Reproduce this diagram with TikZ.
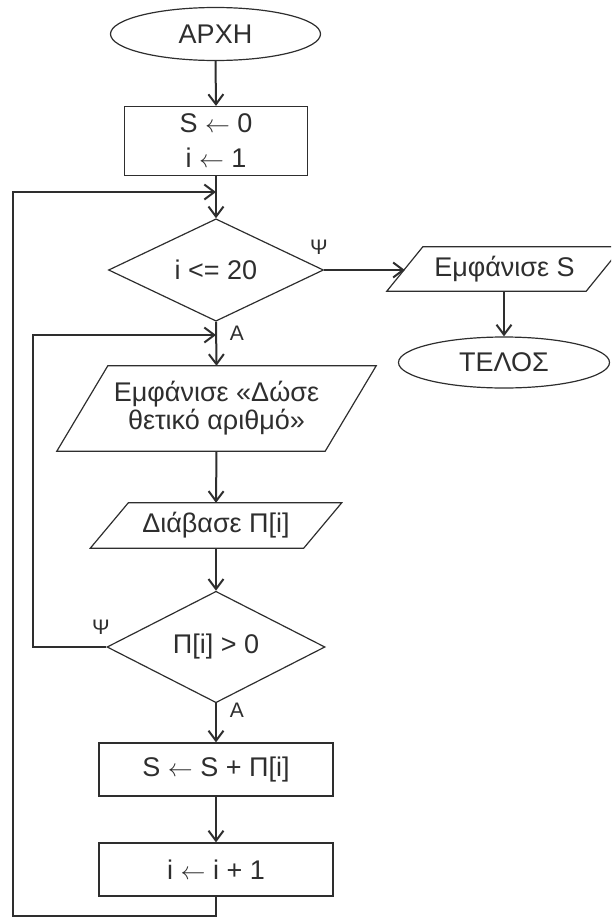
\documentclass[tikz,border=0pt]{standalone}
\usepackage{fontspec}
\setmainfont{Liberation Sans}
\usetikzlibrary{shapes.geometric,arrows.meta}
\definecolor{ink}{HTML}{2E2E2E}
\begin{document}
\begin{tikzpicture}[x=1pt,y=-1pt,
  every node/.style={font=\fontsize{27}{33}\selectfont, text=ink},
  term/.style={ellipse, draw=ink, line width=1.2pt, inner sep=0pt},
  procbox/.style={rectangle, draw=ink, line width=1.2pt, inner sep=0pt, align=center},
  decide/.style={diamond, draw=ink, line width=1.2pt, inner sep=0pt},
  iobox/.style={rectangle, inner sep=0pt, align=center},
  shapeline/.style={draw=ink, line width=1.2pt, line join=miter},
  flow/.style={draw=ink, line width=2pt, -{Straight Barb[length=10pt,width=15pt]}},
  plain/.style={draw=ink, line width=2pt},
  lbl/.style={font=\fontsize{21}{24}\selectfont, inner sep=0pt}
]
\clip (0,0) rectangle (611,918);

% nodes
\node[term, minimum width=210pt, minimum height=53pt] (start) at (215.5,34) {ΑΡΧΗ};
\node[procbox, minimum width=183pt, minimum height=69pt, font=\fontsize{27}{35}\selectfont] (init) at (216,141) {S $\leftarrow$ 0\\i $\leftarrow$ 1};
\node[decide, minimum width=215pt, minimum height=96pt] (c1) at (216,270) {i <= 20};
\node[iobox, minimum width=199pt, minimum height=44pt] (out) at (504.5,269) {Εμφάνισε S};
\node[term, minimum width=211pt, minimum height=51pt] (stop) at (504,362.5) {ΤΕΛΟΣ};
\node[iobox, minimum width=268pt, minimum height=85pt, font=\fontsize{27}{28}\selectfont] (msg) at (216.5,408.5) {Εμφάνισε «Δώσε\\θετικό αριθμό»};
\node[iobox, minimum width=213pt, minimum height=45pt] (rd) at (216,525.5) {Διάβασε Π[i]};
\node[decide, minimum width=218pt, minimum height=96pt] (c2) at (216,647) {Π[i] > 0};
\node[procbox, minimum width=234pt, minimum height=53pt] (add) at (216,769.5) {S $\leftarrow$ S + Π[i]};
\node[procbox, minimum width=234pt, minimum height=53pt] (inc) at (216,869.5) {i $\leftarrow$ i + 1};

% parallelograms
\draw[shapeline] ([xshift=-18pt]out.south west) -- ([xshift=-18pt]out.south east)
  -- ([xshift=18pt]out.north east) -- ([xshift=18pt]out.north west) -- cycle;
\draw[shapeline] ([xshift=-25.5pt]msg.south west) -- ([xshift=-25.5pt]msg.south east)
  -- ([xshift=25.5pt]msg.north east) -- ([xshift=25.5pt]msg.north west) -- cycle;
\draw[shapeline] ([xshift=-19pt]rd.south west) -- ([xshift=-19pt]rd.south east)
  -- ([xshift=19pt]rd.north east) -- ([xshift=19pt]rd.north west) -- cycle;

% junction coordinates
\coordinate (j1) at (216,192);
\coordinate (j2) at (216,335);
\coordinate (b1) at (216,916);
\coordinate (b2) at (13,916);
\coordinate (b3) at (13,192);
\coordinate (l1) at (33,647);
\coordinate (l2) at (33,335);

% main flow
\draw[flow] (start.south) -- (init.north);
\draw[flow] (init.south) -- (c1.north);
\draw[flow] (c1.east) -- (c1.east -| out.west);
\draw[flow] (out.south -| stop.north) -- (stop.north);
\draw[flow] (c1.south) -- (msg.north);
\draw[flow] (msg.south) -- (rd.north);
\draw[flow] (rd.south) -- (c2.north);
\draw[flow] (c2.south) -- (add.north);
\draw[flow] (add.south) -- (inc.north);

% loops
\draw[flow] (inc.south) -- (b1) -- (b2) -- (b3) -- (j1);
\draw[flow] (c2.west) -- (l1) -- (l2) -- (j2);

% labels
\node[lbl] (y1) at (319,247) {Ψ};
\node[lbl] (y2) at (101,627) {Ψ};
\node[lbl] (a1) at (237,333) {Α};
\node[lbl] (a2) at (237,710) {Α};
\end{tikzpicture}
\end{document}
